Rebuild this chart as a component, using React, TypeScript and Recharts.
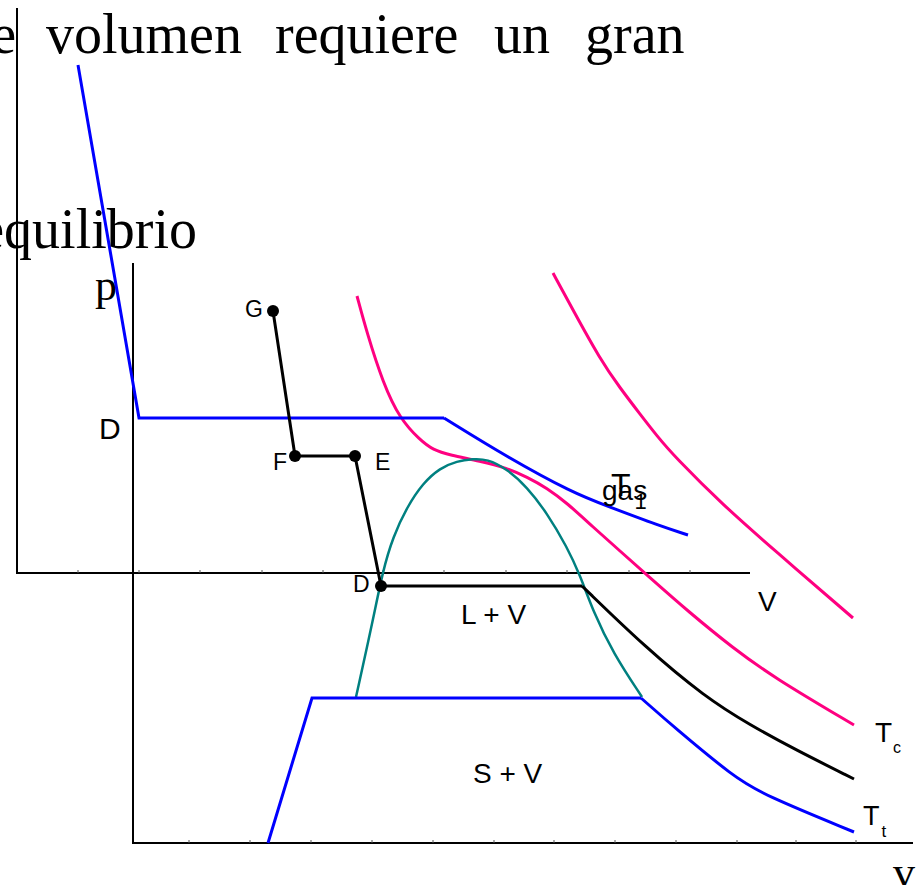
import { ComposedChart, Line, Scatter, XAxis, YAxis, ReferenceDot } from 'recharts';

// Diagram units: v grows to the right, p grows upward (0..917 x 0..885).
type Pt = { v: number; p: number | null };

// outer frame (first p–v sketch) and inner frame (phase diagram)
const OUTER_AXIS: Pt[] = [{ v: 17, p: 877 }, { v: 17, p: 312 }, { v: 750, p: 312 }];
const INNER_AXIS: Pt[] = [{ v: 133, p: 622 }, { v: 133, p: 42 }, { v: 913, p: 42 }];
const OUTER_TICKS = [78, 139, 200, 262, 323, 383, 444, 506, 567, 629, 690];
const INNER_TICKS = [189, 250, 311, 372, 433, 494, 554, 615, 676, 737, 796, 856];

// blue isotherm, upper sketch
const BLUE_UPPER: Pt[] = [{ v: 78, p: 820 }, { v: 139, p: 467 }, { v: 444, p: 467 }];
const BLUE_UPPER_TAIL: Pt[] = [
  { v: 444, p: 467 }, { v: 507, p: 428 }, { v: 573, p: 392 }, { v: 607, p: 379 },
  { v: 660, p: 359 }, { v: 688, p: 350 },
];

// triple-point isotherm T_t
const BLUE_LOWER: Pt[] = [{ v: 268, p: 42 }, { v: 312, p: 187 }, { v: 641, p: 187 }];
const BLUE_LOWER_TAIL: Pt[] = [
  { v: 641, p: 187 }, { v: 675, p: 157 }, { v: 734, p: 108 }, { v: 764, p: 90 }, { v: 854, p: 53 },
];

// compression path G -> F -> E -> D and the isotherm through D
const PATH_GFED: Pt[] = [
  { v: 273, p: 574 }, { v: 295, p: 429 }, { v: 355, p: 429 }, { v: 381, p: 299 }, { v: 582, p: 299 },
];
const BLACK_TAIL: Pt[] = [
  { v: 582, p: 299 }, { v: 645, p: 238 }, { v: 705, p: 188 }, { v: 750, p: 160 },
  { v: 796, p: 135 }, { v: 854, p: 106 },
];
const STATES = [
  { v: 273, p: 574, name: 'G' },
  { v: 295, p: 429, name: 'F' },
  { v: 355, p: 429, name: 'E' },
  { v: 381, p: 299, name: 'D' },
];

// liquid–vapour dome
const DOME: Pt[] = [
  { v: 356, p: 188 }, { v: 373, p: 265 }, { v: 383, p: 315 }, { v: 393, p: 348 },
  { v: 407, p: 378 }, { v: 423, p: 402 }, { v: 440, p: 417 }, { v: 457, p: 424 },
  { v: 473, p: 426 }, { v: 487, p: 426 }, { v: 507, p: 416 }, { v: 527, p: 398 },
  { v: 547, p: 372 }, { v: 567, p: 338 }, { v: 580, p: 310 }, { v: 593, p: 274 },
  { v: 613, p: 232 }, { v: 642, p: 188 },
];

// critical isotherm T_c and a hotter one
const T_CRIT: Pt[] = [
  { v: 357, p: 589 }, { v: 367, p: 552 }, { v: 383, p: 502 }, { v: 400, p: 466 },
  { v: 420, p: 445 }, { v: 433, p: 435 }, { v: 450, p: 430 }, { v: 480, p: 424 },
  { v: 507, p: 417 }, { v: 527, p: 408 }, { v: 547, p: 397 }, { v: 567, p: 382 },
  { v: 593, p: 358 }, { v: 620, p: 334 }, { v: 647, p: 310 }, { v: 690, p: 272 },
  { v: 733, p: 237 }, { v: 773, p: 208 }, { v: 854, p: 160 },
];
const T_HOT: Pt[] = [
  { v: 553, p: 612 }, { v: 573, p: 575 }, { v: 600, p: 526 }, { v: 620, p: 497 },
  { v: 640, p: 471 }, { v: 657, p: 449 }, { v: 675, p: 428 }, { v: 723, p: 380 },
  { v: 773, p: 336 }, { v: 853, p: 267 },
];

const tickMarks = (xs: number[], p: number): Pt[] =>
  xs.flatMap((v) => [{ v, p }, { v, p: p + 3 }, { v, p: null }]);

const SANS = '"Liberation Sans", Arial, sans-serif';
const SERIF = '"Liberation Serif", "Times New Roman", serif';

type Tag = {
  text: string; v: number; p: number; size: number; font: string;
  anchor?: 'start' | 'end'; sub?: string; subSize?: number; subDx?: number; subDy?: number;
};

const TAGS: Tag[] = [
  { text: 'e', v: 16, p: 832, size: 56, font: SERIF, anchor: 'end' },
  { text: 'volumen', v: 46, p: 832, size: 56, font: SERIF },
  { text: 'requiere', v: 275, p: 832, size: 56, font: SERIF },
  { text: 'un', v: 494, p: 832, size: 56, font: SERIF },
  { text: 'gran', v: 585, p: 832, size: 56, font: SERIF },
  { text: 'equilibrio', v: 197, p: 637, size: 56, font: SERIF, anchor: 'end' },
  { text: 'p', v: 95, p: 585, size: 44, font: SERIF },
  { text: 'v', v: 893, p: -2, size: 44, font: SERIF },
  { text: 'D', v: 99, p: 446, size: 30, font: SANS },
  { text: 'G', v: 245, p: 568, size: 23, font: SANS },
  { text: 'F', v: 273, p: 415, size: 23, font: SANS },
  { text: 'E', v: 375, p: 415, size: 23, font: SANS },
  { text: 'D', v: 353, p: 293, size: 23, font: SANS },
  { text: 'L + V', v: 461, p: 261, size: 28, font: SANS },
  { text: 'S + V', v: 473, p: 102, size: 28, font: SANS },
  { text: 'V', v: 758, p: 274, size: 28, font: SANS },
  { text: 'gas', v: 602, p: 385, size: 28, font: SANS },
  { text: 'T', v: 611, p: 389, size: 32, font: SANS, sub: '1', subSize: 22, subDx: 4, subDy: 13 },
  { text: 'T', v: 875, p: 143, size: 28, font: SANS, sub: 'c', subSize: 16, subDx: 1, subDy: 11 },
  { text: 'T', v: 863, p: 60, size: 27, font: SANS, sub: 't', subSize: 17, subDx: 2, subDy: 12 },
];

export default function App() {
  const line = (data: Pt[], color: string, width: number, type: 'linear' | 'basis' = 'linear') => (
    <Line
      data={data}
      dataKey="p"
      type={type}
      stroke={color}
      strokeWidth={width}
      dot={false}
      activeDot={false}
      isAnimationActive={false}
    />
  );

  return (
    <div style={{ position: 'absolute', left: 0, top: 0, background: '#fff' }}>
      <ComposedChart width={917} height={885} margin={{ top: 0, right: 0, bottom: 0, left: 0 }}>
        <XAxis dataKey="v" type="number" domain={[0, 917]} hide allowDataOverflow />
        <YAxis dataKey="p" type="number" domain={[0, 885]} hide allowDataOverflow />

        {line(OUTER_AXIS, '#000', 2)}
        {line(INNER_AXIS, '#000', 2)}
        {line(tickMarks(OUTER_TICKS, 312), '#555', 1)}
        {line(tickMarks(INNER_TICKS, 42), '#555', 1)}

        {line(T_HOT, '#ff0080', 3, 'basis')}
        {line(T_CRIT, '#ff0080', 3, 'basis')}
        {line(DOME, '#008080', 2.5, 'basis')}
        {line(BLUE_UPPER, '#0000ff', 3)}
        {line(BLUE_UPPER_TAIL, '#0000ff', 3, 'basis')}
        {line(BLUE_LOWER, '#0000ff', 3)}
        {line(BLUE_LOWER_TAIL, '#0000ff', 3, 'basis')}
        {line(PATH_GFED, '#000', 3)}
        {line(BLACK_TAIL, '#000', 3, 'basis')}

        <Scatter
          data={STATES}
          isAnimationActive={false}
          shape={(s: any) => <circle cx={s.cx} cy={s.cy} r={6} fill="#000" />}
        />

        {TAGS.map((t, i) => (
          <ReferenceDot
            key={i}
            x={t.v}
            y={t.p}
            r={1}
            ifOverflow="visible"
            shape={(s: any) => (
              <text
                x={s.cx}
                y={s.cy}
                fontFamily={t.font}
                fontSize={t.size}
                textAnchor={t.anchor ?? 'start'}
                fill="#000"
              >
                {t.text}
                {t.sub && (
                  <tspan fontSize={t.subSize} dx={t.subDx} dy={t.subDy}>
                    {t.sub}
                  </tspan>
                )}
              </text>
            )}
          />
        ))}
      </ComposedChart>
    </div>
  );
}
